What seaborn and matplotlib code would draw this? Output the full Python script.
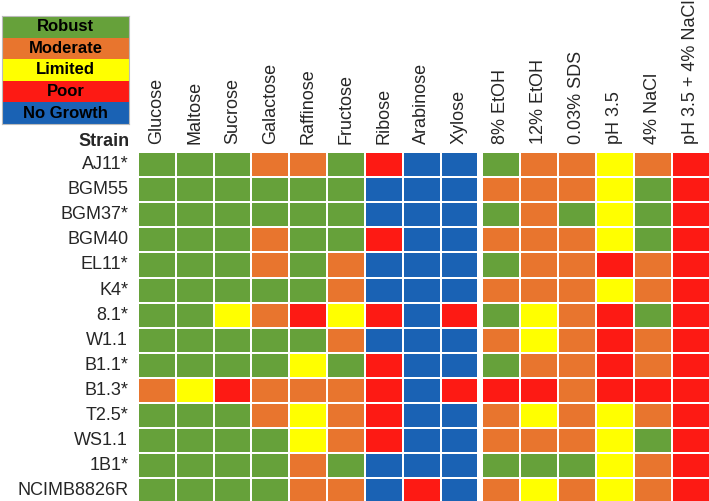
import numpy as np
import pandas as pd
import matplotlib
matplotlib.use('Agg')
import matplotlib.pyplot as plt
from matplotlib.colors import ListedColormap
import seaborn as sns

################################################
## growth scores
levels = ['Robust', 'Moderate', 'Limited', 'Poor', 'No Growth']
level_codes = ['R', 'M', 'L', 'P', 'N']
level_colors = ['#66A13A', '#E8752E', '#FFFF00', '#FD1A14', '#1A62B4']

strains = ['AJ11*', 'BGM55', 'BGM37*', 'BGM40', 'EL11*', 'K4*', '8.1*', 'W1.1',
           'B1.1*', 'B1.3*', 'T2.5*', 'WS1.1', '1B1*', 'NCIMB8826R']
sugars = ['Glucose', 'Maltose', 'Sucrose', 'Galactose', 'Raffinose', 'Fructose',
          'Ribose', 'Arabinose', 'Xylose']
stresses = ['8% EtOH', '12% EtOH', '0.03% SDS', 'pH 3.5', '4% NaCl', 'pH 3.5 + 4% NaCl']

# one string per strain, one letter per column (see level_codes)
sugar_growth = ['RRRMMRPNN', 'RRRRRRNNN', 'RRRRRRNNN', 'RRRMRRPNN', 'RRRMRMNNN',
                'RRRRRMNNN', 'RRLMPLPNP', 'RRRRRMNNN', 'RRRRLRPNN', 'MLPMMMPNP',
                'RRRMLMPNN', 'RRRRLMPNN', 'RRRRMRNNN', 'RRRRMMNPN']
stress_growth = ['RMMLMP', 'MMMLRP', 'RMRLRP', 'MMMLRP', 'RMMPMP',
                 'MMMLMP', 'RLMPRP', 'MLMPMP', 'RMMPMP', 'PPMPPP',
                 'MLMLMP', 'MMMLRP', 'RRRLMP', 'MLMLMP']

sns.set_theme(style='white')
plt.rcParams['font.family'] = ['Liberation Sans', 'DejaVu Sans']


def to_frame(rows, cols):
    vals = [[level_codes.index(c) for c in r] for r in rows]
    return pd.DataFrame(vals, index=strains, columns=cols)


W, H = 709, 501
fig = plt.figure(figsize=(W / 100, H / 100), dpi=100)


def px_axes(x0, y0, x1, y1):
    return fig.add_axes([x0 / W, 1 - y1 / H, (x1 - x0) / W, (y1 - y0) / H])


cmap = ListedColormap(level_colors)

################################################
## main grid, split in two blocks (sugars | stresses)
ax1 = px_axes(138, 152, 478.5, 503.5)
ax2 = px_axes(481.5, 152, 709.5, 503.5)

for ax, df, cols in [(ax1, to_frame(sugar_growth, sugars), sugars),
                     (ax2, to_frame(stress_growth, stresses), stresses)]:
    sns.heatmap(df, ax=ax, cmap=cmap, vmin=-0.5, vmax=4.5, cbar=False,
                linewidths=1.1, linecolor='white')
    ax.xaxis.tick_top()
    ax.set_xticklabels(cols, rotation=90, fontsize=13, va='bottom')
    ax.tick_params(axis='both', length=0, pad=6)
    ax.set_xlabel('')
    ax.set_ylabel('')

ax1.set_yticklabels(strains, rotation=0, fontsize=13)
ax1.tick_params(axis='y', pad=7)
ax2.set_yticks([])

################################################
## colour key
ax_leg = px_axes(2, 16, 129, 124)
key = pd.DataFrame({'key': range(len(levels))}, index=levels)
sns.heatmap(key, ax=ax_leg, cmap=cmap, vmin=-0.5, vmax=4.5, cbar=False,
            annot=np.array(levels).reshape(-1, 1), fmt='',
            annot_kws={'fontsize': 12, 'fontweight': 'bold', 'color': 'black'},
            xticklabels=False, yticklabels=False)
ax_leg.set_ylabel('')
for s in ax_leg.spines.values():
    s.set_visible(True)
    s.set_color('#BBBBBB')
    s.set_linewidth(0.8)

fig.text(130 / W, 1 - 141 / H, 'Strain', ha='right', va='center',
         fontsize=13, fontweight='bold')

fig.savefig('out.png', dpi=100)
